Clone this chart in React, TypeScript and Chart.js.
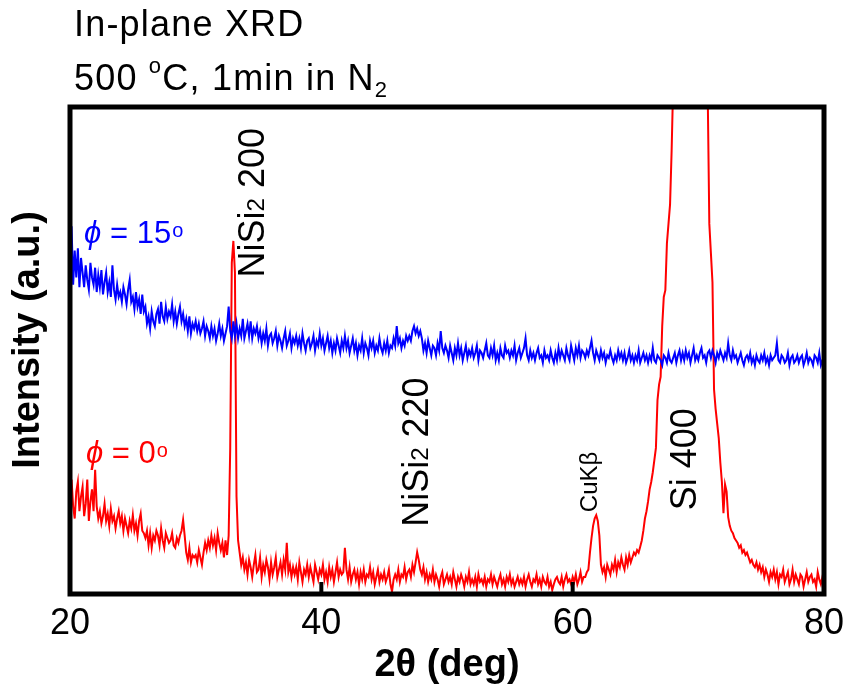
import React, { useEffect, useRef } from "react";
import { Chart, registerables } from "chart.js";

Chart.register(...registerables);

// ---- data (2θ scan: start 20°, step 0.125°) ----
const SCAN_START = 20;
const SCAN_STEP = 0.125;

// φ = 0° (red), intensity in arbitrary units, one row per degree
const phi0Counts = [
  19, 23.5, 18, 15.5, 21, 23, 17, 20,
  22, 16, 18.5, 23.5, 15, 19, 21.5, 17,
  25.5, 18, 15.5, 17, 14.5, 16, 18.5, 15,
  16.5, 14, 17.5, 15, 16, 13.5, 15.5, 17,
  14.5, 16, 13, 15.5, 14, 12.5, 15, 13.5,
  16.2, 13, 14.5, 12, 15, 16.5, 13, 12.5,
  11.5, 13, 10, 12.5, 9.5, 12, 11, 13,
  12, 10, 13.5, 11, 9.5, 12.5, 11.5, 10.5,
  11, 12.5, 10, 9.5, 11.5, 10.5, 12, 13,
  15.2, 12, 8.5, 7, 9.5, 6.5, 8, 7.5,
  8, 6.5, 9, 7.5, 6, 8.5, 10.5, 9,
  11, 9.5, 12, 10, 11.5, 9, 12.5, 10.5,
  9, 10.5, 7.5, 11, 8, 12, 30, 68,
  72.5, 66, 20, 11, 8.5, 6, 7.5, 5,
  6.5, 4, 7, 5.5, 3.5, 6, 8, 4.5,
  5, 7.5, 3.5, 6, 4.5, 7, 5.5, 3,
  6.5, 4, 5.5, 7.5, 3.5, 5, 6.5, 4,
  7, 5, 10.5, 4.5, 6, 3.5, 5.5, 4,
  5.5, 3, 6.5, 4.5, 2.5, 5, 4, 6,
  3.5, 5.5, 4, 2.5, 6, 4.5, 3, 5,
  4, 6, 3, 4.5, 2.5, 5.5, 3.5, 5,
  2.5, 4.5, 6.5, 3.5, 5, 4, 4.5, 9.5,
  5, 3, 5.5, 2.5, 4, 5, 3, 4.5,
  2, 4.5, 3, 5, 2.5, 4, 3.5, 5.5,
  3, 4.5, 2, 3.5, 5, 2.5, 4, 3,
  4.5, 2.5, 3.5, 5, 2, 0.5, 3, 4,
  3, 5, 2.5, 4, 3.5, 5.5, 3, 4.5,
  5, 3.5, 6, 4.5, 6.5, 8.6, 7, 5,
  4, 5.5, 3, 4.5, 2.5, 4, 3, 5,
  2.5, 4, 3, 1.5, 3.5, 4.5, 2, 3,
  4, 2.5, 3.5, 2, 4.5, 3, 1.5, 3.5,
  2.5, 4, 3, 1.5, 3.5, 2.5, 4.5, 2,
  3, 2, 3.5, 1.5, 4, 2.5, 3, 2,
  3.5, 1.5, 3, 2.5, 4, 2, 3.5, 2.5,
  1.5, 3, 4, 2, 3, 1.5, 3.5, 2.5,
  4, 2, 3, 1.5, 2.5, 3.5, 2, 3,
  2, 3.5, 1.5, 3, 4, 2.5, 1.5, 3,
  2.5, 4, 2, 3, 1.5, 3.5, 2.5, 2,
  3.5, 1.5, 2.5, 0.8, 2, 3, 3.5, 2.5,
  2, 3.5, 1.5, 3, 4, 2.5, 3, 2,
  3.5, 2.5, 4, 2, 3, 4.5, 2.5, 3.5,
  3.5, 4.5, 5, 8.5, 11.5, 14, 15.5, 16.2,
  15, 12, 6, 4.5, 5.5, 3.5, 6, 5,
  4, 6, 5, 7, 4.5, 6.5, 5.5, 7.5,
  6, 5, 7.5, 6, 8, 6.5, 7.5, 8.5,
  8, 9, 8.5, 9.7, 11, 13, 15.5, 17,
  19, 21.5, 23, 25, 27.5, 30, 39.8, 43,
  44.6, 55, 61, 62.4, 72, 76, 80, 91,
  105, 135, 165, 200, 235, 270, 300, 325,
  345, 360, 372, 380, 384, 382, 375, 362,
  345, 310, 275, 235, 195, 150, 102, 76,
  70, 64, 42, 38, 35, 32, 27, 23,
  16.6, 22.5, 21, 15.8, 14, 13, 12.5, 11.5,
  11, 10.5, 9.5, 10, 8.5, 9, 8, 8.5,
  7.5, 6.5, 7, 6, 5.5, 6.5, 5, 6,
  4.5, 5.5, 3.5, 5, 4, 2.5, 4.5, 3.5,
  5, 3, 4.5, 2, 4, 3.5, 5, 2.5,
  3.5, 4.5, 2, 3, 5, 2.5, 4, 3,
  2, 4, 3.5, 1.5, 3, 4.5, 2.5, 3.5,
  4, 2.5, 3, 1.5, 4.5, 3, 2, 3.5,
  1.5,
];

// φ = 15° (blue)
const phi15Counts = [
  68, 75.5, 63.5, 70.5, 65, 71, 63, 69,
  66, 63, 67.5, 64.5, 62.5, 68, 65, 63.5,
  67, 62, 65.5, 63, 66.5, 61.5, 64, 66,
  62, 64, 61, 67.5, 62.5, 60.5, 63.5, 61,
  62, 60, 63, 61.5, 59.5, 62.5, 64.5, 60,
  61, 58.5, 62, 59, 60.5, 57.5, 61.5, 58,
  59, 55.5, 57, 54.5, 58, 56, 55, 57.5,
  58.5, 55.5, 60, 57, 56, 59, 56.5, 58,
  57, 59.5, 56, 58, 55.5, 57.5, 59, 56,
  57.5, 55, 56.5, 54, 57, 53.5, 55.5, 54.5,
  56, 54, 55.5, 53.5, 54.5, 56, 53, 55,
  54, 52.5, 55, 53, 54.5, 52, 53.5, 55.5,
  53, 54.5, 52, 53.5, 55, 59, 54, 52.5,
  56, 53, 55.5, 52.5, 54.5, 53, 56.5, 52.5,
  54, 55.5, 53, 56, 52.5, 54.5, 53.5, 55,
  52.5, 54, 51.5, 53.5, 52, 54.5, 51, 53,
  53.5, 51.5, 52.5, 54, 51, 53, 52, 50.5,
  52.5, 54, 51, 52, 53.5, 50.5, 52.5, 51.5,
  53, 51, 52.5, 50.5, 53.5, 51.5, 50, 52,
  52.5, 50.5, 51.5, 53, 50, 52, 51, 53.5,
  51, 52.5, 50, 51.5, 53, 50.5, 52, 49.5,
  51.5, 50, 52.5, 51, 49.5, 52, 50.5, 53,
  50.5, 52, 49.5, 51, 52.5, 50, 51.5, 49,
  51, 50, 52.5, 49.5, 51.5, 50.5, 49, 52,
  50.5, 52, 49.5, 51, 50, 52.5, 50.5, 49.5,
  51.5, 50, 52, 49.5, 51, 50.5, 52.5, 51,
  55, 51.5, 52.5, 50.5, 52, 51, 53, 52,
  53, 52, 54, 55, 53.5, 54.5, 53, 54,
  52.5, 50, 51.5, 49.5, 52, 50.5, 49, 51,
  50.5, 49, 51.5, 50, 54, 50.5, 49.5, 51,
  50, 48.5, 51, 49.5, 48, 50.5, 49, 51.5,
  49, 50.5, 48, 49.5, 51, 48.5, 50, 49,
  50.5, 48.5, 49.5, 51, 48, 50, 49.5, 48.5,
  50, 51.5, 49, 48.5, 50.5, 49, 51, 48,
  49.5, 48, 50.5, 49, 48.5, 51, 49.5, 50,
  48.5, 50, 49, 51, 48, 49.5, 50.5, 48.5,
  49.5, 50.5, 52.5, 49, 48, 50, 48.5, 49.5,
  48, 49.5, 50.5, 48.5, 49, 47.5, 50, 48.5,
  49, 48, 50, 48.5, 47.5, 49.5, 48, 50.5,
  48.5, 50, 49, 48, 50.5, 49, 48, 51,
  49.5, 48, 50.5, 49, 51, 48.5, 50, 49.5,
  48.5, 50, 49, 50.5, 52, 49.5, 48, 50,
  49, 48, 50, 48.5, 49.5, 47.5, 49, 48.5,
  50, 48.5, 47.5, 49, 48, 50, 48.5, 49.5,
  48, 49.5, 47.5, 48.5, 50, 48, 49, 47.5,
  49, 48, 50, 47.5, 48.5, 49.5, 48, 49,
  47.5, 49, 48, 50.5, 48, 47.5, 49, 48.5,
  48, 47, 49, 48.5, 47.5, 49.5, 48, 47.5,
  48.5, 49.5, 47.5, 49, 50, 48, 49.5, 48,
  50, 48.5, 49.5, 47.5, 49, 50.5, 48, 49,
  48, 49.5, 50.5, 48.5, 49, 47.5, 49.5, 50,
  48.5, 50, 49, 47.5, 49.5, 48.5, 50, 49,
  48, 49.5, 48.5, 51.5, 49, 48, 50, 48.5,
  49, 47.5, 48.5, 49.5, 48, 47, 48.5, 49,
  48, 49.5, 47.5, 48.5, 47, 49, 48, 47.5,
  49, 48, 49.5, 47.5, 48.5, 47, 49, 48,
  48.5, 49, 51.5, 48, 47.5, 49, 48.5, 47.5,
  48, 49.5, 47, 48.5, 49, 47.5, 48, 49,
  47.5, 48.5, 49, 47, 48, 49.5, 47.5, 48.5,
  48, 47, 49, 48.5, 47.5, 49.5, 47, 48,
  48,
];

const xTickValues = [20, 40, 60, 80];
const innerTickValues = [40, 60];

const FONT = "'Liberation Sans', Arial, Helvetica, sans-serif";

const toPoints = (vals: number[]) =>
  vals.map((y, i) => ({ x: SCAN_START + i * SCAN_STEP, y }));

// peak annotations: text pieces [text, px size], anchored at (2θ, intensity)
const peakNotes: { parts: [string, number][]; at: number; level: number }[] = [
  { parts: [["NiSi", 36], ["2", 24], [" 200", 36]], at: 35.45, level: 65.0 },
  { parts: [["NiSi", 36], ["2", 24], [" 220", 36]], at: 48.5, level: 13.8 },
  { parts: [["CuKβ", 24]], at: 61.9, level: 16.8 },
  { parts: [["Si 400", 36]], at: 69.85, level: 17.2 },
];

const overlayPlugin = {
  id: "overlay",
  afterDatasetsDraw(chart: any) {
    const { ctx, chartArea: a, scales } = chart;
    const xs = scales.x;
    const ys = scales.y;
    ctx.save();
    // frame
    ctx.strokeStyle = "#000";
    ctx.lineWidth = 5;
    ctx.strokeRect(a.left, a.top, a.right - a.left, a.bottom - a.top);
    // inward ticks
    ctx.lineWidth = 4;
    for (const v of innerTickValues) {
      const px = xs.getPixelForValue(v);
      ctx.beginPath();
      ctx.moveTo(px, a.bottom);
      ctx.lineTo(px, a.bottom - 12);
      ctx.stroke();
    }
    // peak labels (rotated)
    ctx.fillStyle = "#000";
    ctx.textAlign = "left";
    ctx.textBaseline = "alphabetic";
    for (const n of peakNotes) {
      ctx.save();
      ctx.translate(xs.getPixelForValue(n.at), ys.getPixelForValue(n.level));
      ctx.rotate(-Math.PI / 2);
      let x = 0;
      for (const [t, s] of n.parts) {
        ctx.font = `${s}px ${FONT}`;
        ctx.fillText(t, x, 0);
        x += ctx.measureText(t).width;
      }
      ctx.restore();
    }
    // series labels
    const seriesLabel = (angle: number, level: number, value: string, color: string) => {
      let x = xs.getPixelForValue(angle);
      const y = ys.getPixelForValue(level);
      ctx.fillStyle = color;
      ctx.font = `italic 31px ${FONT}`;
      ctx.fillText("ϕ", x, y);
      x += ctx.measureText("ϕ").width;
      ctx.font = `31px ${FONT}`;
      const s = " = " + value;
      ctx.fillText(s, x, y);
      x += ctx.measureText(s).width + 1;
      ctx.font = `20px ${FONT}`;
      ctx.fillText("o", x, y - 6);
    };
    seriesLabel(21.12, 72.1, "15", "#0000ff");
    seriesLabel(21.27, 26.9, "0", "#ff0000");
    ctx.restore();
  },
  afterDraw(chart: any) {
    const { ctx } = chart;
    ctx.save();
    ctx.fillStyle = "#000";
    ctx.textAlign = "left";
    ctx.textBaseline = "alphabetic";
    try {
      ctx.letterSpacing = "1.2px";
    } catch (e) {}
    ctx.font = `36px ${FONT}`;
    ctx.fillText("In-plane XRD", 74, 36);
    let x = 74;
    ctx.fillText("500 ", x, 90);
    x += ctx.measureText("500 ").width;
    ctx.font = `22px ${FONT}`;
    ctx.fillText("o", x, 73);
    x += ctx.measureText("o").width;
    ctx.font = `36px ${FONT}`;
    ctx.fillText("C, 1min in N", x, 90);
    x += ctx.measureText("C, 1min in N").width;
    ctx.font = `22px ${FONT}`;
    ctx.fillText("2", x, 97);
    try {
      ctx.letterSpacing = "0px";
    } catch (e) {}
    // y axis title
    ctx.save();
    ctx.translate(29, 340);
    ctx.rotate(-Math.PI / 2);
    ctx.textAlign = "center";
    ctx.textBaseline = "middle";
    ctx.font = `bold 38px ${FONT}`;
    ctx.fillText("Intensity (a.u.)", 0, 0);
    ctx.restore();
    ctx.restore();
  },
};

export default function App() {
  const ref = useRef<HTMLCanvasElement | null>(null);
  useEffect(() => {
    if (!ref.current) return;
    const chart = new Chart(ref.current, {
      type: "line",
      data: {
        datasets: [
          {
            label: "ϕ = 15°",
            data: toPoints(phi15Counts),
            borderColor: "#0000ff",
            borderWidth: 2,
            pointRadius: 0,
            tension: 0,
            order: 0,
          },
          {
            label: "ϕ = 0°",
            data: toPoints(phi0Counts),
            borderColor: "#ff0000",
            borderWidth: 2,
            pointRadius: 0,
            tension: 0,
            order: 1,
          },
        ],
      },
      options: {
        responsive: false,
        animation: false,
        layout: { autoPadding: false, padding: { left: 70, right: 23, top: 107, bottom: 0 } },
        plugins: { legend: { display: false }, tooltip: { enabled: false } },
        scales: {
          x: {
            type: "linear",
            min: 20,
            max: 80,
            afterFit: (s: any) => {
              s.height = 98;
            },
            afterBuildTicks: (s: any) => {
              s.ticks = xTickValues.map((v) => ({ value: v }));
            },
            grid: { display: false },
            border: { display: false },
            ticks: {
              color: "#000",
              padding: 0,
              maxRotation: 0,
              font: { family: FONT, size: 36 },
            },
            title: {
              display: true,
              text: "2θ (deg)",
              color: "#000",
              font: { family: FONT, size: 38, weight: "bold" },
              padding: { top: 0, bottom: 4 },
            },
          },
          y: {
            display: false,
            min: 0,
            max: 100,
          },
        },
      },
      plugins: [overlayPlugin],
    });
    return () => chart.destroy();
  }, []);
  return (
    <div style={{ position: "absolute", left: 0, top: 0, width: 847, height: 692, background: "#fff" }}>
      <canvas ref={ref} width={847} height={692} />
    </div>
  );
}
